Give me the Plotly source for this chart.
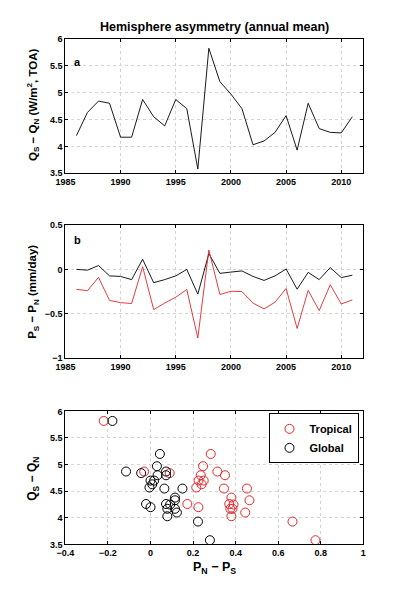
import plotly.graph_objects as go

years = list(range(1986, 2012))
q_diff = [4.20, 4.63, 4.84, 4.80, 4.17, 4.17, 4.87, 4.55, 4.38, 4.87, 4.70, 3.58, 5.82,
          5.20, 4.97, 4.70, 4.03, 4.10, 4.26, 4.57, 3.93, 4.80, 4.33, 4.26, 4.25, 4.55]
p_trop = [-0.225, -0.24, -0.09, -0.35, -0.375, -0.385, 0.03, -0.453, -0.38, -0.314, -0.226,
          -0.775, 0.22, -0.283, -0.247, -0.25, -0.38, -0.445, -0.37, -0.215, -0.667, -0.236,
          -0.465, -0.173, -0.39, -0.345]
p_glob = [0.0, -0.008, 0.044, -0.073, -0.079, -0.115, 0.115, -0.15, -0.115, -0.073, 0.0,
          -0.279, 0.179, -0.044, -0.03, -0.017, -0.079, -0.124, -0.073, 0.005, -0.223, -0.033,
          -0.115, 0.021, -0.092, -0.065]

RED = "#e3262b"
FONT = "Liberation Sans, Arial, Helvetica, sans-serif"

fig = go.Figure()
fig.add_trace(go.Scatter(x=years, y=q_diff, mode="lines", line=dict(color="black", width=0.9),
                         xaxis="x", yaxis="y", showlegend=False))
fig.add_trace(go.Scatter(x=years, y=p_glob, mode="lines", line=dict(color="black", width=0.9),
                         xaxis="x2", yaxis="y2", showlegend=False))
fig.add_trace(go.Scatter(x=years, y=p_trop, mode="lines", line=dict(color=RED, width=0.9),
                         xaxis="x2", yaxis="y2", showlegend=False))
fig.add_trace(go.Scatter(x=[-v for v in p_trop], y=q_diff, mode="markers", name="Tropical",
                         marker=dict(symbol="circle-open", size=9, color=RED, line=dict(width=1, color=RED)),
                         xaxis="x3", yaxis="y3"))
fig.add_trace(go.Scatter(x=[-v for v in p_glob], y=q_diff, mode="markers", name="Global",
                         marker=dict(symbol="circle-open", size=9, color="black", line=dict(width=1, color="black")),
                         xaxis="x3", yaxis="y3"))

xdom = [49/398, 357/398]
def ydom(top, bot):
    return [1 - bot/611, 1 - top/611]

common = dict(showline=True, linecolor="black", linewidth=1, mirror="ticks", ticks="inside",
              ticklen=3, tickcolor="black", showgrid=True, gridcolor="#d4d4d4", griddash="dot",
              gridwidth=1, zeroline=False,
              tickfont=dict(family=FONT, size=9, color="black", weight="bold"))

fig.update_layout(
    width=398, height=611, margin=dict(l=0, r=0, t=0, b=0),
    paper_bgcolor="white", plot_bgcolor="white",
    font=dict(family=FONT, color="black"),
    xaxis=dict(domain=xdom, anchor="y", range=[1985, 2012], tick0=1985, dtick=5, **common),
    yaxis=dict(domain=ydom(26, 163), anchor="x", range=[3.5, 6], dtick=0.5, **common),
    xaxis2=dict(domain=xdom, anchor="y2", range=[1985, 2012], tick0=1985, dtick=5, **common),
    yaxis2=dict(domain=ydom(215.7, 350.7), anchor="x2", range=[-1, 0.5], dtick=0.5, **common),
    xaxis3=dict(domain=xdom, anchor="y3", range=[-0.4, 1], tick0=-0.4, dtick=0.2, **common),
    yaxis3=dict(domain=ydom(405, 540.3), anchor="x3", range=[3.5, 6], dtick=0.5, **common),
    legend=dict(x=352/398, xanchor="right", y=1 - 407/611, yanchor="top",
                bgcolor="white", bordercolor="black", borderwidth=1,
                font=dict(family=FONT, size=11, color="black", weight="bold"),
                itemwidth=30, tracegroupgap=0),
    showlegend=True,
)

ann = [
    dict(text="<b>Hemisphere asymmetry (annual mean)</b>", x=203/398, y=1 - 14/611,
         font=dict(size=12.5)),
    dict(text="<b>Q<sub>S</sub> − Q<sub>N</sub> (W/m<sup>2</sup>, TOA)</b>", x=16/398, y=1 - 93/611,
         textangle=-90, font=dict(size=11.5)),
    dict(text="<b>P<sub>S</sub> − P<sub>N</sub> (mm/day)</b>", x=16/398, y=1 - 283/611,
         textangle=-90, font=dict(size=11.5)),
    dict(text="<b>Q<sub>S</sub> − Q<sub>N</sub></b>", x=16/398, y=1 - 473/611,
         textangle=-90, font=dict(size=12)),
    dict(text="<b>P<sub>N</sub> − P<sub>S</sub></b>", x=203/398, y=1 - 564/611,
         font=dict(size=12.5)),
    dict(text="<b>a</b>", x=61/398, y=1 - 50/611, font=dict(size=11)),
    dict(text="<b>b</b>", x=61/398, y=1 - 231/611, font=dict(size=11)),
]
for a in ann:
    a.update(xref="paper", yref="paper", showarrow=False, xanchor="center", yanchor="middle")
    a["font"].update(family=FONT, color="black")
fig.update_layout(annotations=ann)

fig.write_html("out.html")
